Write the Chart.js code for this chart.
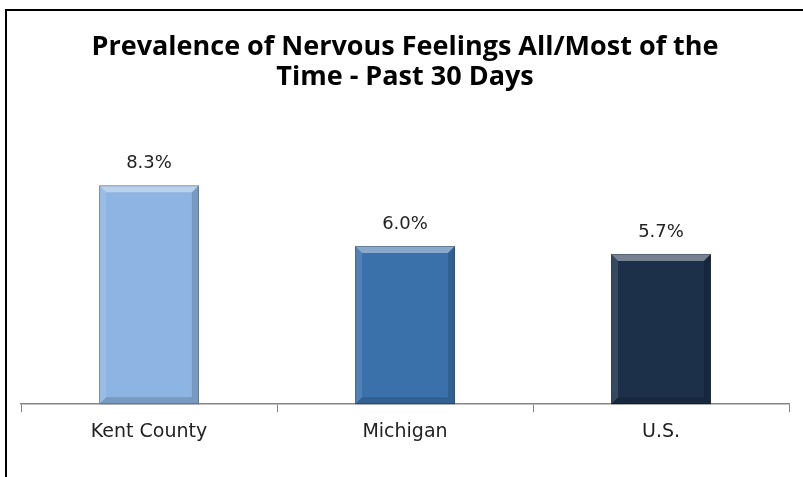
<!DOCTYPE html>
<html>
<head>
<meta charset="utf-8">
<script src="https://cdn.jsdelivr.net/npm/chart.js@4.4.1/dist/chart.umd.min.js"></script>
<style>
   body { margin: 0; background: #fff; }
   #wrap { position: relative; width: 803px; height: 477px; overflow: hidden; }
   #frame { position: absolute; left: 5px; top: 9px; width: 900px; height: 600px;
            border-top: 2px solid #000; border-left: 2px solid #000; }
   canvas { position: absolute; left: 0; top: 0; }
</style>
</head>
<body>
<div id="wrap">
   <div id="frame"></div>
   <canvas id="chart" width="803" height="477"></canvas>
</div>
<script>
// Chart data
const categories = ["Kent County", "Michigan", "U.S."];
const prevalence = [8.3, 6.0, 5.7];
const barColors = ["#8DB4E2", "#3B71AB", "#1C3049"];
const titleLines = ["Prevalence of Nervous Feelings All/Most of the", "Time - Past 30 Days"];

// Draw value labels above each bar
const valueLabels = {
   id: "valueLabels",
   afterDatasetsDraw(chart) {
      const ctx = chart.ctx;
      const meta = chart.getDatasetMeta(0);
      ctx.save();
      ctx.font = "18px 'DejaVu Sans'";
      ctx.fillStyle = "#222";
      ctx.textAlign = "center";
      ctx.textBaseline = "middle";
      meta.data.forEach((bar, i) => {
         ctx.fillText(prevalence[i].toFixed(1) + "%", bar.x, bar.y - 22);
      });
      ctx.restore();
   }
};

// Simple bevel: lighter top edge and darker sides
const bevel = {
   id: "bevel",
   afterDatasetsDraw(chart) {
      const ctx = chart.ctx;
      const meta = chart.getDatasetMeta(0);
      ctx.save();
      meta.data.forEach((bar) => {
         const l = bar.x - bar.width / 2, r = bar.x + bar.width / 2;
         const t = bar.y, b = bar.base, e = 7;
         ctx.fillStyle = "rgba(255,255,255,0.4)";
         ctx.beginPath();
         ctx.moveTo(l, t); ctx.lineTo(r, t); ctx.lineTo(r - e, t + e); ctx.lineTo(l + e, t + e);
         ctx.fill();
         ctx.fillStyle = "rgba(255,255,255,0.12)";
         ctx.beginPath();
         ctx.moveTo(l, t); ctx.lineTo(l + e, t + e); ctx.lineTo(l + e, b - e); ctx.lineTo(l, b);
         ctx.fill();
         ctx.fillStyle = "rgba(0,0,0,0.15)";
         ctx.beginPath();
         ctx.moveTo(r, t); ctx.lineTo(r, b); ctx.lineTo(r - e, b - e); ctx.lineTo(r - e, t + e);
         ctx.fill();
         ctx.beginPath();
         ctx.moveTo(l, b); ctx.lineTo(r, b); ctx.lineTo(r - e, b - e); ctx.lineTo(l + e, b - e);
         ctx.fill();
         ctx.strokeStyle = "rgba(0,0,0,0.25)";
         ctx.lineWidth = 1;
         ctx.strokeRect(l + 0.5, t + 0.5, bar.width - 1, b - t - 1);
      });
      ctx.restore();
   }
};

new Chart(document.getElementById("chart").getContext("2d"), {
   type: "bar",
   data: {
      labels: categories,
      datasets: [{
         data: prevalence,
         backgroundColor: barColors,
         categoryPercentage: 1,
         barPercentage: 0.39
      }]
   },
   options: {
      responsive: false,
      animation: false,
      layout: { padding: { left: 21, right: 14, top: 0, bottom: 26 } },
      plugins: {
         legend: { display: false },
         tooltip: { enabled: false },
         title: {
            display: true,
            text: titleLines,
            color: "#000",
            font: { family: "Open Sans", size: 27, weight: "bold", lineHeight: 1.12 },
            padding: { top: 32, bottom: 48 }
         }
      },
      scales: {
         x: {
            grid: { display: true, offset: true, drawOnChartArea: false, drawTicks: true, tickLength: 8, color: "#868686" },
            border: { display: true, color: "#868686", width: 1.5 },
            ticks: { color: "#222", padding: 8, font: { family: "DejaVu Sans", size: 19 } }
         },
         y: {
            display: false,
            min: 0,
            max: 10
         }
      }
   },
   plugins: [bevel, valueLabels]
});
</script>
</body>
</html>
